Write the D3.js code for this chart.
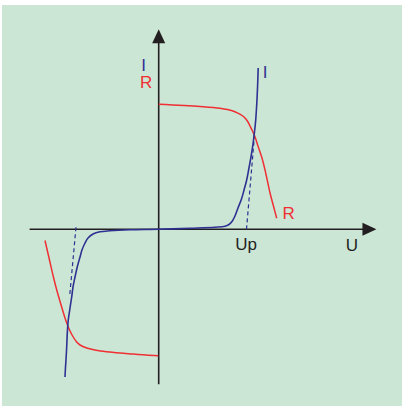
<!DOCTYPE html>
<html>
<head>
<meta charset="utf-8">
<script src="https://cdn.jsdelivr.net/npm/d3@7"></script>
<style>
  html, body { margin: 0; padding: 0; background: #ffffff; }
  svg { display: block; }
  text { font-family: "Liberation Sans", Arial, Helvetica, sans-serif; font-size: 17px; }
</style>
</head>
<body>
<svg id="chart" width="402" height="406"></svg>
<script>
// Varistor characteristic: current I(U) and resistance R(U), in relative units (Up = 1)
const currentU = [-1.067, -1.062, -1.056, -1.048, -1.041, -1.030, -1.010, -0.991, -0.976, -0.953, -0.925, -0.896, -0.874, -0.839, -0.805, -0.748, -0.669, -0.555, -0.327, 0,
                  0.356, 0.641, 0.755, 0.801, 0.835, 0.869, 0.903, 0.943, 0.972, 1.002, 1.028, 1.051, 1.074, 1.091, 1.105, 1.114, 1.122, 1.128, 1.133];
const currentI = [-1.477, -1.387, -1.307, -1.177, -1.037, -0.907, -0.787, -0.677, -0.577, -0.477, -0.367, -0.277, -0.207, -0.137, -0.087, -0.047, -0.025, -0.015, -0.005, 0,
                  0.011, 0.021, 0.030, 0.048, 0.078, 0.133, 0.213, 0.303, 0.393, 0.493, 0.613, 0.723, 0.853, 0.973, 1.093, 1.213, 1.343, 1.473, 1.613];

const resPosU = [0, 0.470, 0.698, 0.846, 0.907, 0.949, 0.983, 1.017, 1.040, 1.063, 1.097, 1.131, 1.173, 1.211, 1.268, 1.313, 1.344];
const resPosR = [1.25, 1.228, 1.21, 1.183, 1.16, 1.138, 1.113, 1.073, 1.033, 0.993, 0.923, 0.833, 0.723, 0.593, 0.363, 0.213, 0.11];

const resNegU = [-1.295, -1.249, -1.200, -1.158, -1.105, -1.067, -1.030, -0.987, -0.934, -0.896, -0.820, -0.714, -0.592, -0.441, -0.289, -0.145, -0.005];
const resNegR = [-0.112, -0.287, -0.474, -0.617, -0.777, -0.887, -0.977, -1.057, -1.127, -1.157, -1.187, -1.209, -1.224, -1.237, -1.247, -1.257, -1.264];

// tangents to the steep part of I(U), meeting the U axis at ±Up
const tangentPosU = [1.0, 1.091];
const tangentPosI = [0, 0.943];
const tangentNegU = [-0.942, -1.012];
const tangentNegI = [0.02, -0.65];

const axisLabels = { u: "U", up: "Up", i: "I", r: "R" };

const blue = "#2e3192";
const red = "#ef2f33";
const ink = "#231f20";

const svg = d3.select("#chart");

// panel background
svg.append("rect")
  .attr("x", 2).attr("y", 5)
  .attr("width", 400).attr("height", 401)
  .attr("fill", "#cce6d5");

const x = d3.scaleLinear().domain([0, 1]).range([158.7, 246.5]);
const y = d3.scaleLinear().domain([0, 1]).range([229.3, 129.3]);

const uMin = -1.47, uMax = 2.48;
const iMin = -1.55, iMax = 2.0;

const g = svg.append("g");

// axes
g.append("line")
  .attr("x1", x(uMin)).attr("y1", y(0))
  .attr("x2", x(uMax) - 8).attr("y2", y(0))
  .attr("stroke", ink).attr("stroke-width", 1.6);
g.append("line")
  .attr("x1", x(0)).attr("y1", y(iMin))
  .attr("x2", x(0)).attr("y2", y(iMax) + 8)
  .attr("stroke", ink).attr("stroke-width", 1.6);

// arrowheads
const xt = x(uMax), yt = y(0);
g.append("path")
  .attr("d", `M${xt},${yt} L${xt - 14},${yt - 6.5} L${xt - 14},${yt + 6.5} Z`)
  .attr("fill", ink);
const ax = x(0), ay = y(iMax);
g.append("path")
  .attr("d", `M${ax},${ay} L${ax - 6.5},${ay + 14} L${ax + 6.5},${ay + 14} Z`)
  .attr("fill", ink);

const line = d3.line()
  .x(d => x(d[0]))
  .y(d => y(d[1]))
  .curve(d3.curveCatmullRom.alpha(0.5));

const zip = (a, b) => a.map((v, k) => [v, b[k]]);

// tangent lines (dashed)
[[tangentPosU, tangentPosI], [tangentNegU, tangentNegI]].forEach(([us, is]) => {
  g.append("path")
    .attr("d", d3.line().x(d => x(d[0])).y(d => y(d[1]))(zip(us, is)))
    .attr("fill", "none")
    .attr("stroke", blue)
    .attr("stroke-width", 1.2)
    .attr("stroke-dasharray", "4,3");
});

// resistance branches
[[resPosU, resPosR], [resNegU, resNegR]].forEach(([us, rs]) => {
  g.append("path")
    .attr("d", line(zip(us, rs)))
    .attr("fill", "none")
    .attr("stroke", red)
    .attr("stroke-width", 1.5);
});

// current curve
g.append("path")
  .attr("d", line(zip(currentU, currentI)))
  .attr("fill", "none")
  .attr("stroke", blue)
  .attr("stroke-width", 1.6);

// labels
g.append("text").text(axisLabels.i)
  .attr("x", x(0) - 15).attr("y", y(1.58))
  .attr("text-anchor", "middle").attr("fill", blue);
g.append("text").text(axisLabels.r)
  .attr("x", x(0) - 12.5).attr("y", y(1.413))
  .attr("text-anchor", "middle").attr("fill", red);
g.append("text").text(axisLabels.i)
  .attr("x", x(currentU[currentU.length - 1]) + 7).attr("y", y(1.515))
  .attr("text-anchor", "middle").attr("fill", blue);
g.append("text").text(axisLabels.r)
  .attr("x", x(resPosU[resPosU.length - 1]) + 12).attr("y", y(0.103))
  .attr("text-anchor", "middle").attr("fill", red);
g.append("text").text(axisLabels.up)
  .attr("x", x(1) - 0.5).attr("y", y(0) + 21)
  .attr("text-anchor", "middle").attr("fill", ink);
g.append("text").text(axisLabels.u)
  .attr("x", x(2.2)).attr("y", y(0) + 21.4)
  .attr("text-anchor", "middle").attr("fill", ink);
</script>
</body>
</html>
